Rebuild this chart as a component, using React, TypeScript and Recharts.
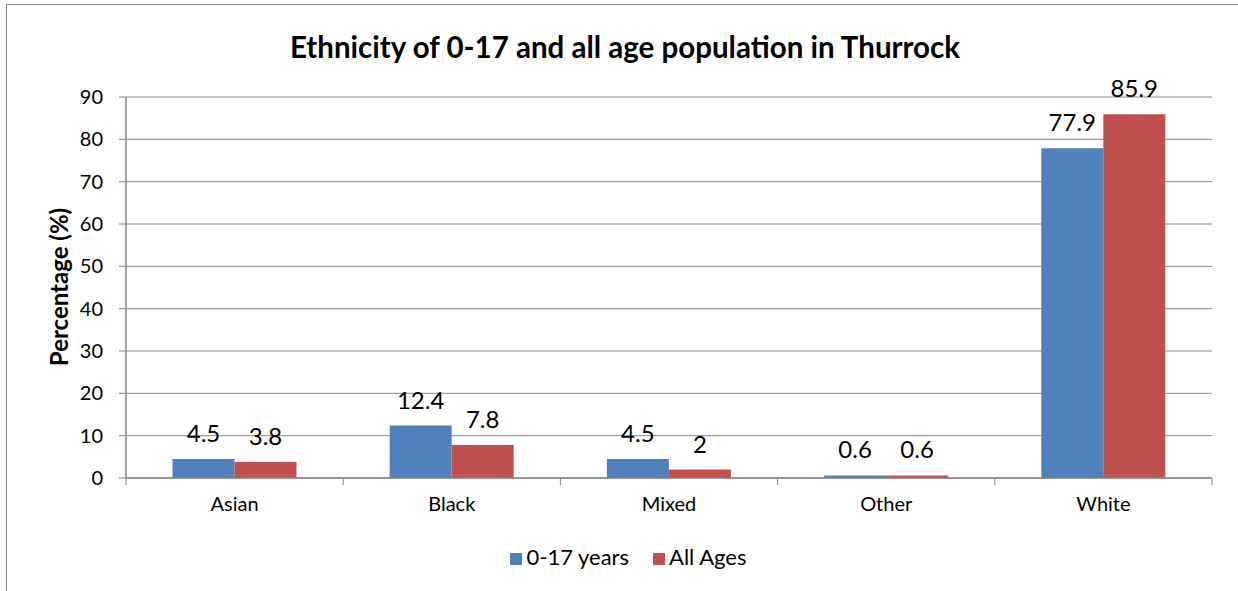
import { BarChart, Bar, XAxis, YAxis, CartesianGrid, Legend, LabelList } from "recharts";

const categories = ["Asian", "Black", "Mixed", "Other", "White"];
const youngValues = [4.5, 12.4, 4.5, 0.6, 77.9];
const allAgeValues = [3.8, 7.8, 2, 0.6, 85.9];
const yTicks = [0, 10, 20, 30, 40, 50, 60, 70, 80, 90];

const data = categories.map((c, i) => ({
  group: c,
  young: youngValues[i],
  all: allAgeValues[i],
}));

const FONT = "Lato, Carlito, Calibri, sans-serif";
const AXIS = "#868686";

interface TickProps {
  x?: number;
  y?: number;
  index?: number;
  payload?: { value: string; offset?: number };
}

// category label + the tick marks between categories (Excel style)
function CategoryTick(props: TickProps) {
  const x = Number(props.x ?? 0);
  const y = Number(props.y ?? 0);
  const half = Number(props.payload?.offset ?? 0);
  const last = props.index === categories.length - 1;
  return (
    <g>
      <line x1={x - half} x2={x - half} y1={y - 8} y2={y - 1} stroke={AXIS} />
      {last && <line x1={x + half} x2={x + half} y1={y - 8} y2={y - 1} stroke={AXIS} />}
      <text x={x} y={y + 25} textAnchor="middle" fontSize={20} fill="#000" fontFamily={FONT}>
        {props.payload?.value}
      </text>
    </g>
  );
}

export default function App() {
  return (
    <div
      style={{
        position: "absolute",
        left: 6,
        top: 4,
        width: 1232,
        height: 587,
        borderTop: "1px solid #878787",
        borderLeft: "1px solid #878787",
        background: "#fff",
        fontFamily: FONT,
      }}
    >
      <div
        style={{
          position: "absolute",
          left: 0,
          width: 1236,
          top: 24,
          textAlign: "center",
          fontSize: 29.5,
          fontWeight: 700,
          lineHeight: "36px",
        }}
      >
        Ethnicity of 0-17 and all age population in Thurrock
      </div>
      <div
        style={{
          position: "absolute",
          left: 52 - 120,
          top: 282 - 14,
          width: 240,
          textAlign: "center",
          fontSize: 24,
          fontWeight: 700,
          lineHeight: "28px",
          transform: "rotate(-90deg)",
          zIndex: 1,
        }}
      >
        Percentage (%)
      </div>
      <BarChart
        width={1231}
        height={586}
        data={data}
        margin={{ top: 92, right: 26, bottom: 46, left: 59 }}
        barCategoryGap="21.4%"
        barGap={0}
        style={{ position: "absolute", left: 0, top: 0 }}
      >
        <CartesianGrid vertical={false} stroke={AXIS} strokeWidth={1} />
        <XAxis
          dataKey="group"
          height={40}
          axisLine={{ stroke: AXIS, strokeWidth: 1.5 }}
          tickLine={false}
          tick={<CategoryTick />}
          interval={0}
        />
        <YAxis
          domain={[0, 90]}
          ticks={yTicks}
          width={60}
          axisLine={{ stroke: AXIS, strokeWidth: 1.5 }}
          tickLine={{ stroke: AXIS }}
          tickSize={7}
          tickMargin={16}
          tick={{ fontSize: 20, fill: "#000", fontFamily: FONT }}
          interval={0}
        />
        <Legend
          verticalAlign="bottom"
          iconType="square"
          iconSize={12}
          wrapperStyle={{ bottom: 21, left: 18, width: 1231, fontSize: 22, fontFamily: FONT }}
          formatter={(v: string) => <span style={{ color: "#000", marginRight: 14 }}>{v}</span>}
        />
        <Bar dataKey="young" name="0-17 years" fill="#4F81BD" isAnimationActive={false}>
          <LabelList dataKey="young" position="top" offset={17} fontSize={24} fill="#000" fontFamily={FONT} />
        </Bar>
        <Bar dataKey="all" name="All Ages" fill="#C0504D" isAnimationActive={false}>
          <LabelList dataKey="all" position="top" offset={17} fontSize={24} fill="#000" fontFamily={FONT} />
        </Bar>
      </BarChart>
    </div>
  );
}
